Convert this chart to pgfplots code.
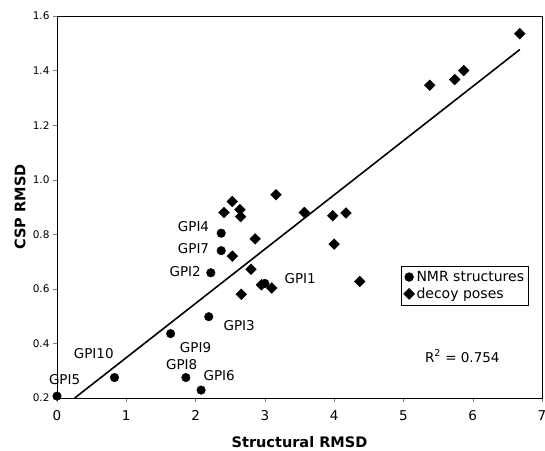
\documentclass[border=0pt]{standalone}
\usepackage{fontspec}
\setmainfont{DejaVu Sans}
\usepackage{pgfplots}
\pgfplotsset{compat=1.18}

\begin{document}
\begin{tikzpicture}
\begin{axis}[
  name=ax,
  scale only axis, width=485pt, height=382pt,
  xmin=0, xmax=7, ymin=0.2, ymax=1.6,
  xtick={0,1,...,7}, ytick={0.2,0.4,...,1.6},
  yticklabel style={font=\fontsize{10.5}{12}\selectfont, /pgf/number format/fixed, /pgf/number format/fixed zerofill, /pgf/number format/precision=1},
  xticklabel style={font=\fontsize{13.5}{15}\selectfont, yshift=-5pt},
  /pgf/number format/assume math mode=true,
  tick align=outside, xtick pos=bottom, ytick pos=left,
  major tick length=4pt,
  axis line style={line width=0.9pt},
  clip=false,
  legend style={at={(0.972,0.346)}, anchor=north east, font=\fontsize{14}{16}\selectfont,
    draw=black, line width=0.7pt, inner xsep=2pt, inner ysep=3pt, row sep=1pt},
  legend cell align=left,
]
\addplot[only marks, mark=*, mark size=4.3pt, black] coordinates {
  (0,0.207) (0.83,0.275) (1.64,0.436) (1.86,0.275) (2.08,0.229)
  (2.19,0.498) (2.22,0.659) (2.37,0.740) (2.37,0.804) (3.00,0.620)
};
\addlegendentry{NMR structures}
\addplot[only marks, mark=square*, mark size=3.8pt, mark options={rotate=45}, black] coordinates {
  (2.53,0.920) (2.41,0.880) (2.64,0.890) (2.65,0.865) (3.16,0.945)
  (3.57,0.880) (3.98,0.868) (4.17,0.878) (4.00,0.764) (2.86,0.783)
  (2.53,0.720) (2.80,0.672) (2.95,0.615) (3.10,0.603) (2.66,0.580)
  (4.37,0.627) (5.38,1.346) (5.74,1.367) (5.87,1.400) (6.68,1.535)
};
\addlegendentry{decoy poses}
\addplot[black, line width=1.6pt, forget plot] coordinates {(0.256,0.200) (6.68,1.477)};
\begin{scope}[font=\fontsize{13.5}{15}\selectfont]
\node at (axis cs:1.97,0.829) {GPI4};
\node at (axis cs:1.97,0.747) {GPI7};
\node at (axis cs:1.85,0.663) {GPI2};
\node at (axis cs:2.63,0.464) {GPI3};
\node at (axis cs:2.00,0.386) {GPI9};
\node at (axis cs:0.53,0.364) {GPI10};
\node at (axis cs:1.80,0.321) {GPI8};
\node at (axis cs:2.34,0.282) {GPI6};
\node at (axis cs:0.11,0.269) {GPI5};
\node at (axis cs:3.51,0.637) {GPI1};
\node at (axis cs:5.85,0.354) {R\textsuperscript{2} = 0.754};
\node[font=\fontsize{14.5}{16}\selectfont\bfseries] at ([yshift=-44pt]rel axis cs:0.5,0) {Structural RMSD};
\node[rotate=90, font=\fontsize{14.5}{16}\selectfont\bfseries] at ([xshift=-37pt]rel axis cs:0,0.5) {CSP RMSD};
\end{scope}
\end{axis}
\pgfresetboundingbox
\path ([shift={(-57pt,-52pt)}]ax.south west) rectangle ([shift={(3pt,16pt)}]ax.north east);
\end{tikzpicture}
\end{document}
